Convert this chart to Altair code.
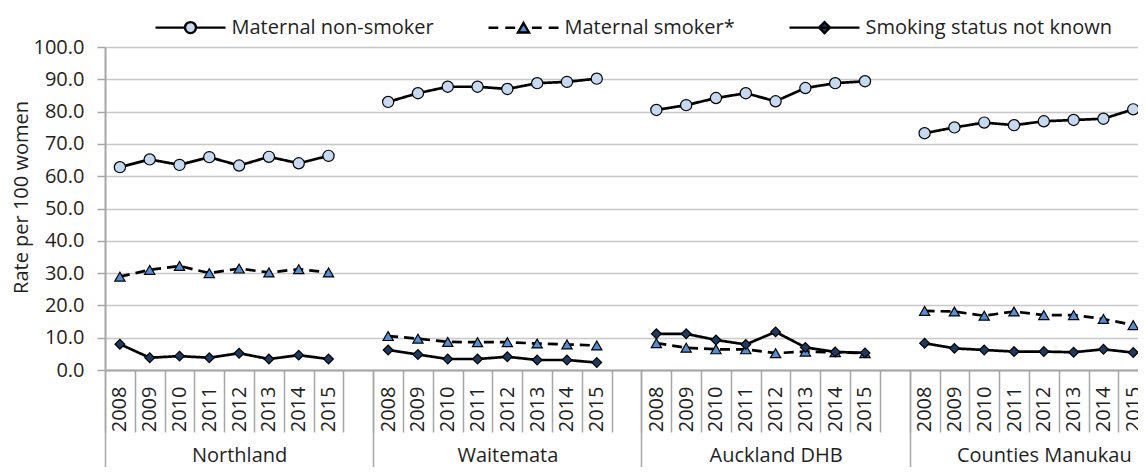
import json
import pandas as pd
import altair as alt

# ---------------- data ----------------
groups = ["Northland", "Waitemata", "Auckland DHB", "Counties Manukau"]
years = ["2008", "2009", "2010", "2011", "2012", "2013", "2014", "2015"]
series = ["Maternal non-smoker", "Maternal smoker*", "Smoking status not known"]

non_smoker = {
    "Northland":        [62.8, 65.2, 63.5, 65.9, 63.3, 66.0, 64.0, 66.3],
    "Waitemata":        [83.0, 85.7, 87.7, 87.7, 87.0, 88.8, 89.2, 90.2],
    "Auckland DHB":     [80.5, 82.0, 84.2, 85.7, 83.2, 87.3, 88.8, 89.4],
    "Counties Manukau": [73.3, 75.1, 76.6, 75.8, 77.0, 77.4, 77.8, 80.7],
}
smoker = {
    "Northland":        [28.9, 31.0, 32.2, 30.0, 31.4, 30.2, 31.2, 30.2],
    "Waitemata":        [10.5, 9.7, 8.7, 8.6, 8.6, 8.2, 7.9, 7.6],
    "Auckland DHB":     [8.3, 6.9, 6.4, 6.4, 5.2, 5.7, 5.5, 5.2],
    "Counties Manukau": [18.3, 18.1, 16.8, 18.1, 17.0, 17.0, 15.8, 13.9],
}
not_known = {
    "Northland":        [8.0, 3.8, 4.3, 3.8, 5.2, 3.4, 4.6, 3.4],
    "Waitemata":        [6.2, 4.8, 3.4, 3.4, 4.1, 3.1, 3.1, 2.3],
    "Auckland DHB":     [11.2, 11.2, 9.3, 7.9, 11.8, 7.0, 5.6, 5.3],
    "Counties Manukau": [8.3, 6.7, 6.2, 5.7, 5.7, 5.5, 6.4, 5.4],
}
y_ticks = [0, 10, 20, 30, 40, 50, 60, 70, 80, 90, 100]

fills = ["#C6D9F1", "#558ED5", "#1F3A60"]
shapes = ["circle", "triangle-up", "diamond"]
marker_sizes = [125, 105, 95]
dashes = [[1, 0], [10, 6], [1, 0]]

# ---------------- table ----------------
slots_per_group = len(years) + 1          # 8 years + one empty slot
rows = []
for s, table in zip(series, [non_smoker, smoker, not_known]):
    for gi, g in enumerate(groups):
        for yi, yr in enumerate(years):
            rows.append({"series": s, "group": g, "year": yr,
                         "pos": gi * slots_per_group + yi + 0.5,
                         "value": table[g][yi]})
df = pd.DataFrame(rows)

# ---------------- layout ----------------
W, H = 1033, 323
x_end = 34.66
slot_px = W / x_end
FONT = "Open Sans"
TXT = "#1f1f1f"
AX = "#A6A6A6"
FS = 20

x_scale = alt.Scale(domain=[0, x_end], nice=False, zero=False)
n_slots = len(groups) * slots_per_group - 1
slot_labels = years + [""]

year_axis = alt.Axis(
    orient="bottom", title=None, grid=False,
    values=[k + 0.5 for k in range(n_slots)],
    labelExpr=f"{json.dumps(slot_labels)}[floor(datum.value) % {slots_per_group}]",
    labelAngle=270, labelAlign="right", labelBaseline="middle",
    labelPadding=-46, labelOffset=slot_px / 2,
    tickSize=62, tickOffset=-slot_px / 2, tickColor=AX, tickWidth=1.5,
    domainColor=AX, domainWidth=2,
    labelOverlap=False, labelFlush=False, labelBound=False,
    labelFont=FONT, labelFontSize=FS, labelColor=TXT,
)
group_axis = alt.Axis(
    orient="bottom", title=None, grid=False, domain=False,
    values=[g * slots_per_group + 0.5 for g in range(len(groups))],
    labelExpr=f"{json.dumps(groups)}[floor(datum.value / {slots_per_group})]",
    labelAngle=0, labelAlign="center", labelBaseline="alphabetic",
    labelPadding=-6, labelOffset=slot_px / 2 + 4 * slot_px,
    tickSize=97, tickOffset=-slot_px / 2, tickColor=AX, tickWidth=1.5,
    labelOverlap=False, labelFlush=False, labelBound=False,
    labelFont=FONT, labelFontSize=FS, labelColor=TXT,
)
y_axis = alt.Axis(
    values=y_ticks, format=".1f", title="Rate per 100 women",
    titleFont=FONT, titleFontSize=FS, titleFontWeight="normal", titleColor=TXT,
    titleAngle=270, titleAlign="center", titleBaseline="alphabetic",
    titleX=-78, titleY=150,
    labelFont=FONT, labelFontSize=FS, labelColor=TXT, labelPadding=13,
    tickSize=8, tickColor=AX, tickWidth=1.5,
    domainColor=AX, domainWidth=2,
    gridColor="#C8C8C8", gridWidth=1.5,
)

x_enc = alt.X("pos:Q", scale=x_scale, axis=year_axis)
y_enc = alt.Y("value:Q", scale=alt.Scale(domain=[0, 100], nice=False), axis=y_axis)

layers = []
for s, d in zip(series, dashes):
    layers.append(
        alt.Chart(df).transform_filter(alt.datum.series == s)
        .mark_line(color="black", strokeWidth=2.7, strokeDash=d)
        .encode(x=x_enc, y=y_enc, detail="group:N")
    )
for s, f, sh, sz in zip(series, fills, shapes, marker_sizes):
    layers.append(
        alt.Chart(df).transform_filter(alt.datum.series == s)
        .mark_point(filled=True, fill=f, shape=sh, size=sz, stroke="black", strokeWidth=1.2, opacity=1)
        .encode(x=x_enc, y=y_enc)
    )

# legend keys: a line with the marker in the middle (custom symbol paths)
r, k, h = 0.157, 0.5523, 0.136
circle_key = (f"M-1,0L{-r},0M{r},0L1,0"
              f"M{r},0C{r},{k*r} {k*r},{r} 0,{r}C{-k*r},{r} {-r},{k*r} {-r},0"
              f"C{-r},{-k*r} {-k*r},{-r} 0,{-r}C{k*r},{-r} {r},{-k*r} {r},0Z")
tri_key = (f"M-1,0L-0.72,0M-0.52,0L-0.24,0M0.24,0L0.52,0M0.72,0L1,0"
           f"M0,{-h}L{r},{h}L{-r},{h}Z")
dia_key = f"M-1,0L1,0M{-r},0L0,{-r}L{r},0L0,{r}Z"

legend = alt.Legend(
    title=None, orient="none", legendX=49, legendY=-56,
    direction="horizontal", columns=3, columnPadding=49, padding=0,
    symbolSize=4900, symbolStrokeWidth=2.4, symbolStrokeColor="black",
    labelOffset=4.5, labelLimit=500,
    labelFont=FONT, labelFontSize=FS, labelColor=TXT,
)
legend_layer = alt.Chart(df).mark_point(filled=False, strokeWidth=2.4, opacity=1, size=4900).encode(
    shape=alt.Shape("series:N", scale=alt.Scale(domain=series, range=[circle_key, tri_key, dia_key]), legend=legend),
    fill=alt.Fill("series:N", scale=alt.Scale(domain=series, range=fills), legend=legend),
    stroke=alt.Stroke("series:N", scale=alt.Scale(domain=series, range=["black", "black", "black"]), legend=legend),
).transform_filter("false")
layers.append(legend_layer)

inner = alt.layer(*layers)

group_layer = alt.Chart(pd.DataFrame({"pos": [g * slots_per_group + 0.5 for g in range(len(groups))]})).mark_point().encode(
    x=alt.X("pos:Q", scale=x_scale, axis=group_axis),
).transform_filter("false")

chart = alt.layer(inner, group_layer).resolve_scale(x="independent").properties(
    width=W, height=H,
    autosize=alt.AutoSizeParams(type="none"),
    padding={"left": 97, "top": 39, "right": 0, "bottom": 97},
).configure(font=FONT).configure_view(stroke=None)

chart.save("out.html", embed_options={"renderer": "svg", "actions": False})
